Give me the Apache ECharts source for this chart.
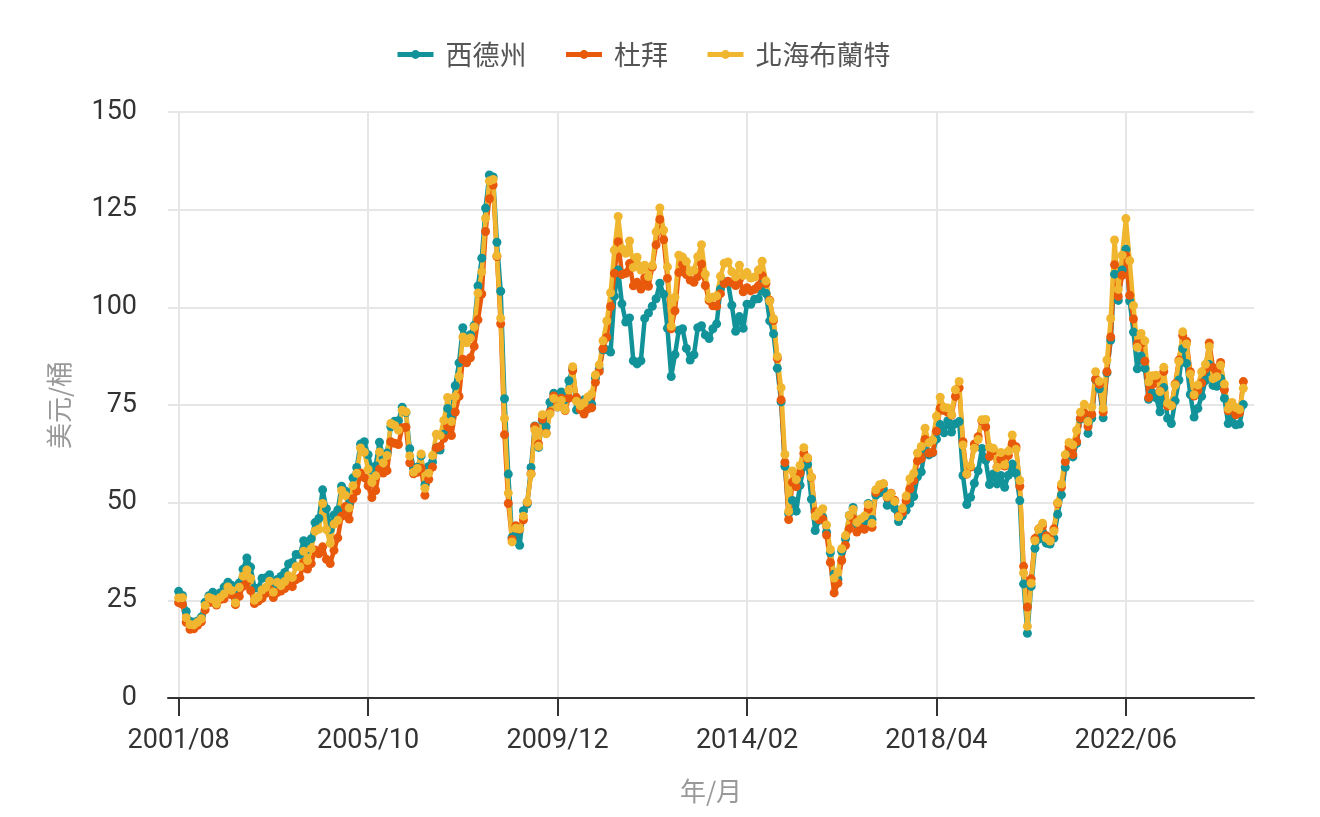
<!DOCTYPE html>
<html>
<head>
<meta charset="utf-8">
<title>原油價格</title>
<script src="https://cdn.jsdelivr.net/npm/echarts@6/dist/echarts.min.js"></script>
<style>
  html, body { margin: 0; padding: 0; background: #fff; }
  #chart { width: 1320px; height: 817px; }
</style>
</head>
<body>
<div id="chart"></div>
<script>
// monthly averages, USD per barrel, from 2001/08
const startYear = 2001;
const startMonth = 8;

const wti = [
  27.31, 26.25, 22.17, 19.64, 19.39,
  19.72, 20.72, 24.53, 26.18, 27.04, 25.52, 26.97, 28.39, 29.66, 28.84, 26.35, 29.46,
  32.95, 35.83, 33.51, 28.17, 28.11, 30.66, 30.76, 31.57, 28.31, 30.34, 31.11, 32.13,
  34.31, 34.69, 36.74, 36.75, 40.28, 38.03, 40.78, 44.90, 45.94, 53.28, 48.47, 43.15,
  46.84, 48.15, 54.19, 52.98, 49.83, 56.35, 59.00, 64.99, 65.59, 62.26, 58.32, 59.41,
  65.49, 61.63, 62.69, 69.44, 70.84, 70.95, 74.41, 73.04, 63.80, 58.89, 59.08, 61.96,
  54.51, 59.28, 60.44, 63.98, 63.46, 67.49, 74.12, 72.36, 79.92, 85.80, 94.77, 91.69,
  92.97, 95.39, 105.45, 112.58, 125.40, 133.88, 133.37, 116.67, 104.11, 76.61, 57.31, 41.12,
  41.71, 39.09, 47.94, 49.65, 59.03, 69.64, 64.15, 71.05, 69.41, 75.72, 77.99, 74.47,
  78.33, 76.39, 81.20, 84.29, 73.74, 75.34, 76.32, 76.60, 75.24, 81.89, 84.25, 89.15,
  89.17, 88.58, 102.86, 109.53, 100.90, 96.26, 97.30, 86.33, 85.52, 86.32, 97.16, 98.56,
  100.27, 102.20, 106.16, 103.32, 94.66, 82.30, 87.90, 94.13, 94.51, 89.49, 86.53, 87.86,
  94.76, 95.31, 92.94, 92.02, 94.51, 95.77, 104.67, 106.57, 106.29, 100.54, 93.86, 97.63,
  94.62, 100.82, 100.80, 102.07, 102.18, 105.79, 103.59, 96.54, 93.21, 84.40, 75.79, 59.29,
  47.22, 50.58, 47.82, 54.45, 59.27, 59.82, 50.90, 42.87, 45.48, 46.22, 42.44, 37.19,
  31.68, 30.32, 37.55, 40.75, 46.71, 48.76, 44.65, 44.72, 45.18, 49.78, 45.66, 51.97,
  52.50, 53.47, 49.33, 51.06, 48.48, 45.18, 46.63, 48.04, 49.82, 51.58, 56.64, 57.88,
  63.70, 62.23, 62.73, 66.25, 69.98, 67.87, 70.98, 68.06, 70.23, 70.75, 56.96, 49.52,
  51.38, 54.95, 58.15, 63.86, 60.83, 54.66, 57.35, 54.81, 56.95, 53.96, 57.03, 59.88,
  57.52, 50.54, 29.21, 16.55, 28.56, 38.31, 40.71, 42.34, 39.63, 39.40, 40.94, 47.02,
  52.00, 59.04, 62.33, 61.72, 65.17, 71.38, 72.49, 67.73, 71.65, 81.48, 79.15, 71.71,
  83.22, 91.64, 108.50, 101.78, 109.55, 114.84, 101.62, 93.67, 84.26, 87.55, 84.37, 76.44,
  78.12, 76.83, 73.28, 79.45, 71.58, 70.25, 76.07, 81.39, 89.43, 85.64, 77.69, 71.90,
  74.15, 77.25, 81.28, 85.35, 80.02, 79.77, 81.80, 76.68, 70.24, 71.99, 69.95, 70.12,
  75.10
];

const dubai = [
  24.4, 24.0, 19.4, 17.6, 17.7,
  18.6, 19.5, 22.6, 24.4, 24.5, 23.8, 25.2, 25.4, 26.8, 26.4, 23.9, 26.0,
  28.6, 29.8, 27.5, 24.2, 24.8, 25.5, 26.8, 27.8, 25.7, 27.0, 27.4, 28.0,
  28.9, 28.5, 30.3, 30.8, 34.6, 33.0, 34.4, 37.9, 36.9, 38.7, 35.5, 34.4,
  37.8, 41.0, 46.5, 49.0, 45.8, 51.0, 53.0, 57.6, 56.4, 54.3, 51.3, 53.1,
  58.6, 57.6, 58.2, 65.6, 65.2, 64.9, 69.2, 69.3, 60.2, 57.4, 57.8, 58.8,
  51.9, 56.0, 59.1, 64.0, 64.4, 66.5, 69.5, 67.2, 73.2, 77.2, 86.7, 85.8,
  87.1, 90.0, 96.8, 103.4, 119.4, 127.8, 131.3, 113.0, 95.8, 67.4, 49.8, 40.6,
  44.1, 43.2, 45.6, 50.1, 57.4, 69.5, 65.0, 71.4, 67.8, 73.2, 77.3, 75.4,
  76.7, 73.6, 76.8, 83.8, 76.9, 73.8, 72.7, 74.0, 74.3, 80.8, 83.6, 89.4,
  92.3, 100.2, 108.7, 116.8, 108.4, 108.7, 111.2, 105.5, 106.4, 104.7, 107.6, 105.4,
  110.3, 116.0, 122.5, 117.3, 107.4, 94.5, 99.1, 108.9, 111.0, 108.4, 107.0, 106.4,
  107.9, 111.1, 105.6, 101.7, 100.4, 100.3, 103.5, 106.1, 106.7, 106.3, 105.6, 107.1,
  104.0, 105.0, 104.2, 104.6, 105.5, 108.1, 106.1, 101.8, 96.6, 86.9, 76.3, 60.3,
  45.7, 55.2, 54.1, 57.6, 62.6, 61.3, 56.5, 47.7, 45.7, 45.8, 41.7, 34.7,
  26.9, 29.4, 35.2, 39.1, 43.3, 45.9, 42.5, 43.5, 43.2, 48.3, 43.7, 52.6,
  53.8, 54.8, 51.4, 52.4, 50.6, 46.5, 47.5, 50.6, 53.5, 55.6, 60.7, 61.3,
  66.2, 62.7, 62.9, 68.3, 74.2, 73.6, 73.1, 72.4, 77.2, 79.4, 65.6, 57.3,
  59.1, 65.0, 66.9, 70.9, 69.4, 61.8, 63.3, 59.1, 61.1, 59.4, 62.1, 65.1,
  64.3, 54.2, 33.7, 23.3, 30.5, 40.8, 43.3, 44.0, 41.5, 40.7, 43.3, 49.8,
  54.0, 60.5, 64.3, 62.3, 65.6, 71.6, 72.9, 69.5, 72.6, 81.6, 80.3, 73.2,
  83.5, 92.4, 110.9, 102.8, 108.2, 113.2, 103.1, 97.0, 90.6, 90.7, 86.2, 76.9,
  80.2, 81.8, 78.6, 83.6, 74.7, 74.8, 80.4, 86.5, 92.8, 91.3, 83.5, 77.3,
  78.7, 80.6, 84.2, 90.9, 84.6, 83.4, 85.9, 78.9, 73.5, 74.3, 72.5, 73.0,
  81.0
];

const brent = [
  25.62, 25.68, 20.54, 18.80, 18.71,
  19.42, 20.28, 23.70, 25.73, 25.35, 24.08, 25.74, 26.65, 28.40, 27.54, 24.34, 28.33,
  31.18, 32.77, 30.61, 25.00, 25.86, 27.65, 28.35, 29.89, 27.11, 29.61, 28.75, 29.81,
  31.28, 30.86, 33.63, 33.59, 37.57, 35.18, 38.22, 42.74, 43.20, 49.78, 43.11, 39.60,
  44.51, 45.48, 53.10, 51.88, 48.65, 54.35, 57.52, 63.98, 62.91, 58.54, 55.24, 56.86,
  62.99, 60.21, 62.06, 70.26, 69.78, 68.56, 73.67, 73.23, 61.96, 57.81, 58.76, 62.47,
  53.68, 57.56, 62.05, 67.49, 67.21, 71.05, 76.93, 70.76, 77.17, 82.34, 92.41, 90.93,
  92.18, 94.99, 103.64, 109.07, 122.80, 132.32, 132.72, 113.24, 97.23, 71.58, 52.45, 39.95,
  43.44, 43.32, 46.54, 50.18, 57.30, 68.61, 64.44, 72.51, 67.65, 72.77, 76.66, 74.46,
  76.17, 73.75, 78.83, 84.82, 75.95, 74.76, 75.58, 77.04, 77.84, 82.67, 85.28, 91.45,
  96.52, 103.72, 114.64, 123.26, 114.99, 113.83, 116.97, 110.22, 112.83, 109.55, 110.77, 107.87,
  110.69, 119.33, 125.45, 119.75, 110.34, 95.16, 102.62, 113.36, 112.86, 111.71, 109.06, 109.49,
  112.96, 116.05, 108.47, 102.25, 102.56, 102.92, 107.93, 111.28, 111.60, 109.08, 107.79, 110.76,
  108.12, 108.90, 107.48, 107.76, 109.54, 111.80, 106.77, 101.61, 97.09, 87.43, 79.44, 62.34,
  47.76, 58.10, 55.89, 59.52, 64.08, 61.48, 56.56, 46.52, 47.62, 48.43, 44.27, 38.01,
  30.70, 32.18, 38.21, 41.58, 46.74, 48.25, 44.95, 45.84, 46.57, 49.52, 44.73, 53.31,
  54.58, 54.87, 51.59, 52.31, 50.33, 46.37, 48.48, 51.70, 56.15, 57.51, 62.71, 64.37,
  69.08, 65.32, 66.02, 72.11, 76.98, 74.41, 74.25, 72.53, 78.89, 81.03, 64.75, 57.36,
  59.41, 63.96, 66.14, 71.23, 71.32, 64.22, 63.92, 59.04, 62.83, 59.71, 63.21, 67.31,
  63.65, 55.66, 32.01, 18.38, 29.38, 40.27, 43.24, 44.74, 40.91, 40.19, 42.69, 49.99,
  54.77, 62.28, 65.41, 64.81, 68.53, 73.16, 75.17, 70.75, 74.49, 83.54, 81.05, 74.17,
  86.51, 97.13, 117.25, 104.58, 113.34, 122.71, 111.93, 100.45, 89.76, 93.33, 91.42, 80.92,
  82.50, 82.59, 78.43, 84.64, 75.47, 74.84, 80.11, 86.15, 93.72, 90.60, 82.94, 77.63,
  80.12, 83.48, 85.41, 89.94, 81.75, 82.25, 85.15, 80.36, 74.02, 75.63, 74.35, 73.86,
  79.27
];

// label every 50 months: 2001/08, 2005/10, ...
const tickIndex = [0, 50, 100, 150, 200, 250];

const seriesNames = ['西德州', '杜拜', '北海布蘭特'];
const seriesColors = ['#12939a', '#e8590c', '#f0b630'];

const months = wti.map((_, i) => {
  const m = startMonth - 1 + i;
  const y = startYear + Math.floor(m / 12);
  return y + '/' + String((m % 12) + 1).padStart(2, '0');
});

function toPoints(values) {
  return values.map((v, i) => [i, v]);
}

const chart = echarts.init(document.getElementById('chart'));

chart.setOption({
  animation: false,
  textStyle: { fontFamily: 'Roboto, "Noto Sans CJK TC", sans-serif' },
  color: seriesColors,
  legend: {
    top: 36,
    left: 390,
    itemGap: 37,
    itemWidth: 36,
    itemHeight: 11,
    lineStyle: { width: 5 },
    textStyle: {
      fontSize: 27,
      color: '#555',
      padding: [0, 0, 0, 7],
      fontFamily: '"Noto Sans CJK TC", sans-serif'
    },
    data: seriesNames
  },
  grid: { left: 168, right: 66, top: 112, bottom: 119 },
  xAxis: {
    type: 'value',
    min: -2.81,
    max: 283.81,
    name: '年/月',
    nameLocation: 'middle',
    nameGap: 80,
    nameTextStyle: { fontSize: 26, color: '#999', fontFamily: '"Noto Sans CJK TC", sans-serif' },
    axisLine: { lineStyle: { color: '#333', width: 2 } },
    axisTick: { customValues: tickIndex, length: 18, lineStyle: { color: '#333', width: 2 } },
    axisLabel: {
      customValues: tickIndex,
      formatter: v => months[v],
      fontSize: 27,
      color: '#333',
      margin: 30
    },
    splitLine: { show: true, lineStyle: { color: '#e6e6e6', width: 2 } }
  },
  yAxis: {
    type: 'value',
    min: 0,
    max: 150,
    interval: 25,
    name: '美元/桶',
    nameLocation: 'middle',
    nameGap: 96,
    nameTextStyle: { fontSize: 26, color: '#999', fontFamily: '"Noto Sans CJK TC", sans-serif' },
    axisLine: { show: false },
    axisTick: { show: false },
    axisLabel: { fontSize: 27, color: '#333', margin: 31 },
    splitLine: { lineStyle: { color: '#e6e6e6', width: 2 } }
  },
  series: [wti, dubai, brent].map((values, k) => ({
    name: seriesNames[k],
    type: 'line',
    data: toPoints(values),
    symbol: 'circle',
    symbolSize: 9,
    showSymbol: true,
    lineStyle: { width: 4.5 },
    emphasis: { disabled: true }
  }))
});

window.addEventListener('resize', () => chart.resize());
</script>
</body>
</html>
